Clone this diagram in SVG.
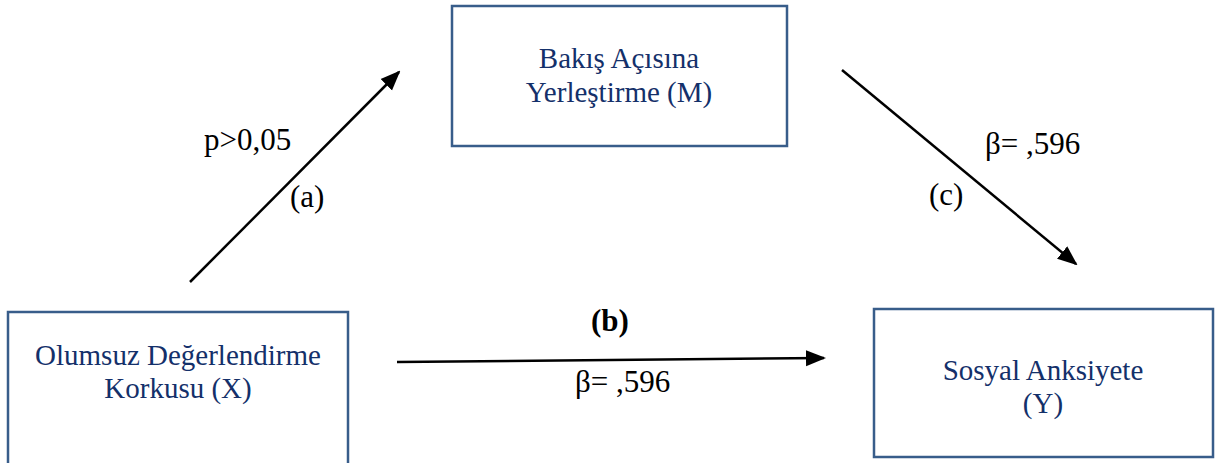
<svg xmlns="http://www.w3.org/2000/svg" width="1221" height="463" viewBox="0 0 1221 463">
<defs>
<style>
.box{fill:#fff;stroke:#385d8a;stroke-width:2.5}
.nt{font-family:"Liberation Serif","Times New Roman",serif;font-size:29px;fill:#14306a;text-anchor:middle}
.lb{font-family:"Liberation Serif","Times New Roman",serif;font-size:31px;fill:#000}
.ln{stroke:#000;stroke-width:2.5;fill:none}
</style>
<marker id="ah2" viewBox="0 0 10 10" refX="9" refY="5" markerWidth="8" markerHeight="8" orient="auto">
<path d="M0,1 L10,5 L0,9 z" fill="#000"/>
</marker>
</defs>
<rect width="1221" height="463" fill="#fff"/>
<g id="connectors">
<line class="ln" x1="190" y1="282" x2="399" y2="72" marker-end="url(#ah2)"/>
<line class="ln" x1="842" y1="70" x2="1076" y2="264" marker-end="url(#ah2)"/>
<line class="ln" x1="397" y1="362" x2="824" y2="358" marker-end="url(#ah2)"/>
</g>
<g id="node-m">
<rect class="box" x="452" y="6" width="335" height="140"/>
<text class="nt" x="619" y="68">Bakış Açısına</text>
<text class="nt" x="619" y="102">Yerleştirme (M)</text>
</g>
<g id="node-x">
<rect class="box" x="8" y="312" width="340" height="160"/>
<text class="nt" x="178" y="365">Olumsuz Değerlendirme</text>
<text class="nt" x="178" y="398">Korkusu (X)</text>
</g>
<g id="node-y">
<rect class="box" x="874" y="309" width="339" height="148"/>
<text class="nt" x="1043" y="380">Sosyal Anksiyete</text>
<text class="nt" x="1043" y="413">(Y)</text>
</g>
<g id="labels">
<text class="lb" x="204" y="150">p&gt;0,05</text>
<text class="lb" x="290" y="207">(a)</text>
<text class="lb" x="985" y="154">β= ,596</text>
<text class="lb" x="929" y="205">(c)</text>
<text class="lb" x="610" y="331" text-anchor="middle" font-weight="bold">(b)</text>
<text class="lb" x="575" y="392">β= ,596</text>
</g>
</svg>
